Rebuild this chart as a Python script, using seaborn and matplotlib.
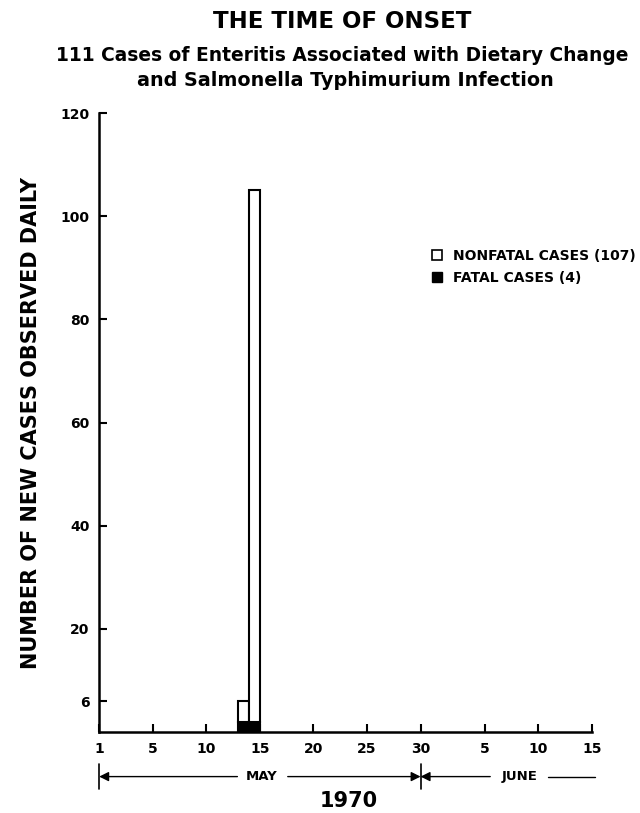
import matplotlib
matplotlib.use('Agg')
import matplotlib.pyplot as plt
import seaborn as sns
import numpy as np
from matplotlib.patches import Patch

# data: day index along the axis (0 = May 1 ... 30 = May 30/31, 36 = June 5)
days = [13, 14]
fatal = [2, 2]
nonfatal = [4, 103]
tick_pos = [0, 5, 10, 15, 20, 25, 30, 36, 41, 46]
tick_labels = ['1', '5', '10', '15', '20', '25', '30', '5', '10', '15']
y_ticks = [6, 20, 40, 60, 80, 100, 120]

sns.set_theme(style='ticks')
plt.rcParams['font.family'] = ['DejaVu Sans']
plt.rcParams['font.weight'] = 'bold'
for k in ['text.color', 'axes.labelcolor', 'xtick.color', 'ytick.color', 'axes.edgecolor']:
    plt.rcParams[k] = 'black'

fig = plt.figure(figsize=(6.4, 8.13), dpi=100)
ax = fig.add_axes([0.155, 0.0996, 0.770, 0.7614])

ax.bar(days, fatal, width=1, align='edge', color='black', edgecolor='black', linewidth=1.5)
ax.bar(days, nonfatal, width=1, align='edge', bottom=fatal, color='white',
       edgecolor='black', linewidth=1.5)

ax.set_xlim(0, 46)
ax.set_ylim(0, 120)
ax.set_xticks(tick_pos)
ax.set_xticklabels(tick_labels)
ax.set_yticks(y_ticks)
ax.tick_params(direction='in', length=6, width=1.5, labelsize=10, pad=7)
for lab in ax.get_xticklabels() + ax.get_yticklabels():
    lab.set_fontweight('bold')
sns.despine(ax=ax)
for s in ['left', 'bottom']:
    ax.spines[s].set_linewidth(1.8)

ax.set_ylabel('NUMBER OF NEW CASES OBSERVED DAILY', fontsize=15, fontweight='heavy', labelpad=14)

handles = [Patch(facecolor='white', edgecolor='black', linewidth=1.2, label='NONFATAL CASES (107)'),
           Patch(facecolor='black', edgecolor='black', label='FATAL CASES (4)')]
ax.legend(handles=handles, loc='upper left', bbox_to_anchor=(0.675, 0.781), frameon=False,
          handlelength=0.75, handleheight=0.75, handletextpad=0.8, borderpad=0, borderaxespad=0,
          labelspacing=0.6, prop={'weight': 'bold', 'size': 10})

# month arrows below the axis
ya = -0.072
tr = ax.get_xaxis_transform()
arrow = dict(arrowstyle='-|>', color='black', lw=1, mutation_scale=14, shrinkA=0, shrinkB=0)
ax.annotate('', xy=(0, ya), xytext=(12.9, ya), xycoords=tr, textcoords=tr, arrowprops=arrow)
ax.annotate('', xy=(30, ya), xytext=(17.6, ya), xycoords=tr, textcoords=tr, arrowprops=arrow)
ax.annotate('', xy=(30, ya), xytext=(36.5, ya), xycoords=tr, textcoords=tr, arrowprops=arrow)
ax.plot([41.9, 46.3], [ya, ya], color='black', lw=1, transform=tr, clip_on=False)
for xv in [0, 30]:
    ax.plot([xv, xv], [ya - 0.02, ya + 0.02], color='black', lw=1.2, transform=tr, clip_on=False)
ax.text(15.2, ya, 'MAY', transform=tr, ha='center', va='center', fontsize=9.5, fontweight='bold')
ax.text(39.2, ya, 'JUNE', transform=tr, ha='center', va='center', fontsize=9.5, fontweight='bold')

fig.text(0.545, 0.015, '1970', ha='center', va='center', fontsize=15, fontweight='bold')
fig.text(0.535, 0.973, 'THE TIME OF ONSET', ha='center', va='center', fontsize=16.5, fontweight='heavy')
fig.text(0.535, 0.932, '111 Cases of Enteritis Associated with Dietary Change',
         ha='center', va='center', fontsize=13.4, fontweight='bold')
fig.text(0.54, 0.901, 'and Salmonella Typhimurium Infection',
         ha='center', va='center', fontsize=13.8, fontweight='bold')

fig.savefig('out.png', dpi=100, facecolor='white')
